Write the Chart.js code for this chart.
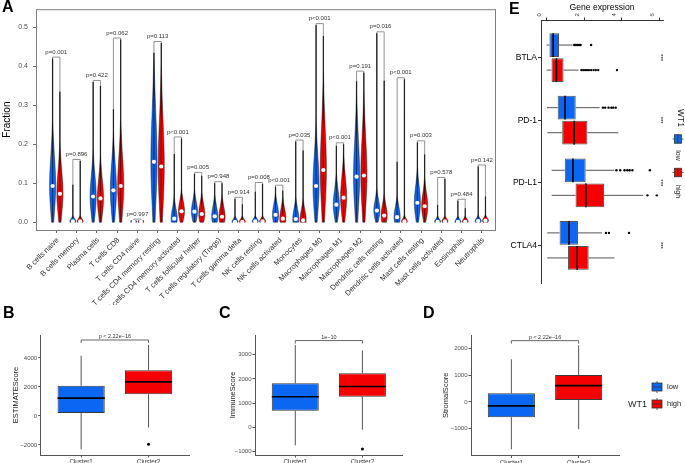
<!DOCTYPE html>
<html>
<head>
<meta charset="utf-8">
<script src="https://cdn.jsdelivr.net/npm/chart.js@4.4.1/dist/chart.umd.min.js"></script>
<style>
  html, body { margin: 0; padding: 0; background: #fff; }
  #wrap { position: relative; width: 685px; height: 463px; overflow: hidden; font-family: 'Liberation Sans', Arial, sans-serif; }
  canvas { position: absolute; }
  .tag { position: absolute; font-weight: bold; font-size: 16px; line-height: 16px; color: #000; }
</style>
</head>
<body>
<div id="wrap">
  <canvas id="chartA" width="500" height="305" style="left:0;top:0"></canvas>
  <canvas id="chartE" width="185" height="300" style="left:500px;top:0"></canvas>
  <canvas id="chartB" width="200" height="138" style="left:0;top:325px"></canvas>
  <canvas id="chartC" width="200" height="138" style="left:215px;top:325px"></canvas>
  <canvas id="chartD" width="255" height="138" style="left:430px;top:325px"></canvas>
  <div class="tag" style="left:2px;top:-1px">A</div>
  <div class="tag" style="left:509px;top:1px">E</div>
  <div class="tag" style="left:3px;top:305px">B</div>
  <div class="tag" style="left:219px;top:305px">C</div>
  <div class="tag" style="left:423px;top:305px">D</div>
</div>
<script>
// ---- panel A : immune cell fractions ----
const cellTypes = ['B cells naive', 'B cells memory', 'Plasma cells', 'T cells CD8', 'T cells CD4 naive',
  'T cells CD4 memory resting', 'T cells CD4 memory activated', 'T cells follicular helper',
  'T cells regulatory (Tregs)', 'T cells gamma delta', 'NK cells resting', 'NK cells activated',
  'Monocytes', 'Macrophages M0', 'Macrophages M1', 'Macrophages M2', 'Dendritic cells resting',
  'Dendritic cells activated', 'Mast cells resting', 'Mast cells activated', 'Eosinophils', 'Neutrophils'];
const lowMedian = [0.093, 0.002, 0.066, 0.082, 0.001, 0.155, 0.009, 0.027, 0.015, 0.001, 0.002,
  0.019, 0.008, 0.093, 0.045, 0.117, 0.030, 0.013, 0.050, 0.001, 0.001, 0.003];
const highMedian = [0.073, 0.002, 0.061, 0.093, 0.001, 0.143, 0.028, 0.021, 0.014, 0.001, 0.002,
  0.009, 0.005, 0.134, 0.063, 0.120, 0.017, 0.002, 0.041, 0.002, 0.001, 0.004];
const lowMax = [0.420, 0.096, 0.360, 0.290, 0.004, 0.435, 0.175, 0.124, 0.100, 0.060, 0.078,
  0.091, 0.207, 0.506, 0.196, 0.362, 0.485, 0.155, 0.205, 0.044, 0.055, 0.143];
const highMax = [0.335, 0.157, 0.350, 0.469, 0.004, 0.460, 0.215, 0.119, 0.100, 0.046, 0.098,
  0.081, 0.184, 0.478, 0.200, 0.384, 0.363, 0.367, 0.174, 0.111, 0.036, 0.066];
const pLabels = ['p=0.001', 'p=0.896', 'p=0.422', 'p=0.062', 'p=0.997', 'p=0.113', 'p<0.001', 'p=0.005',
  'p=0.948', 'p=0.914', 'p=0.008', 'p<0.001', 'p=0.035', 'p<0.001', 'p<0.001', 'p=0.191', 'p=0.016',
  'p<0.001', 'p=0.003', 'p=0.578', 'p=0.484', 'p=0.142'];
const fractionTicks = [0, 0.1, 0.2, 0.3, 0.4, 0.5];

// ---- panels B, C, D : scores by cluster ----
const clusters = ['Cluster1', 'Cluster2'];
const estimateMin = [-2300, -800];
const estimateQ1 = [200, 1500];
const estimateMed = [1230, 2350];
const estimateQ3 = [2080, 3150];
const estimateMax = [4150, 4900];
const estimateOut = [[], [-1950]];
const estimateTicks = [-2000, 0, 2000, 4000];

const immuneMin = [-742, -96];
const immuneQ1 = [687, 1264];
const immuneMed = [1264, 1690];
const immuneQ3 = [1827, 2239];
const immuneMax = [3400, 3173];
const immuneOut = [[], [-893]];
const immuneTicks = [-1000, 0, 1000, 2000, 3000];

const stromalMin = [-1760, -1016];
const stromalQ1 = [-570, 74];
const stromalMed = [-149, 607];
const stromalQ3 = [322, 1004];
const stromalMax = [1586, 2107];
const stromalOut = [[], []];
const stromalTicks = [-1000, 0, 1000, 2000];

// ---- panel E : checkpoint gene expression ----
const genes = ['BTLA', 'PD-1', 'PD-L1', 'CTLA4'];
const geneTicks = [0, 2, 4, 6];
const lowMinE = [0.0, 0.02, 0.27, 0.03];
const lowQ1E = [0.15, 0.59, 0.97, 0.69];
const lowMedE = [0.35, 0.98, 1.40, 1.19];
const lowQ3E = [0.66, 1.55, 2.08, 1.67];
const lowMaxE = [1.39, 2.82, 3.60, 2.95];
const lowOutE = [[1.47, 1.56, 1.65, 1.73, 1.81, 2.37], [3.0, 3.12, 3.3, 3.45, 3.55, 3.68],
  [3.72, 3.92, 4.15, 4.3, 4.42, 4.57, 5.5], [3.16, 3.32, 4.39]];
const highMinE = [0.0, 0.04, 0.27, 0.03];
const highQ1E = [0.26, 0.83, 1.54, 1.14];
const highMedE = [0.52, 1.47, 2.09, 1.63];
const highQ3E = [0.90, 2.17, 3.06, 2.24];
const highMaxE = [1.70, 3.82, 5.15, 3.61];
const highOutE = [[1.85, 1.95, 2.05, 2.15, 2.25, 2.37, 2.5, 2.62, 2.75, 3.75], [], [5.37, 5.87], []];
const signifE = ['***', '***', '***', '***'];

const FONT = "'Liberation Sans', Arial, sans-serif";
const blue = '#0b67f2';
const red = '#f50000';
Chart.defaults.font.family = FONT;
Chart.defaults.color = '#4d4d4d';

const baseOpts = {
  responsive: false,
  animation: false,
  devicePixelRatio: 1,
  events: [],
  plugins: { legend: { display: false }, tooltip: { enabled: false } }
};

function setTicks(values) {
  return scale => { scale.ticks = values.map(v => ({ value: v })); };
}

// ---------------- Panel A ----------------
const dodge = 0.18;
const violinHalf = 0.15;

function drawViolin(ctx, cx, y, med, top, w, color) {
  // shape only: width peaks at the median and thins out towards the maximum
  const sd = med < 0.005 ? 0.006 : Math.max(med * 0.7, 0.022);
  const n = 70;
  const pts = [];
  for (let k = 0; k <= n; k++) {
    const v = top * k / n;
    const d = (v - med) / (v > med ? sd * 1.15 : sd);
    pts.push([y.getPixelForValue(v), Math.max(Math.exp(-0.5 * d * d), 0.07) * w]);
  }
  const grad = ctx.createLinearGradient(0, y.getPixelForValue(0), 0, y.getPixelForValue(top));
  const f1 = Math.min((med + 1.2 * sd) / top, 0.98);
  const f2 = Math.max(Math.min((med + 2.6 * sd) / top, 1), f1 + 0.01);
  grad.addColorStop(0, color);
  grad.addColorStop(f1, color);
  grad.addColorStop(Math.min(f2, 1), '#111');
  if (f2 < 1) grad.addColorStop(1, '#111');
  ctx.beginPath();
  pts.forEach((p, k) => k === 0 ? ctx.moveTo(cx + p[1], p[0]) : ctx.lineTo(cx + p[1], p[0]));
  for (let k = pts.length - 1; k >= 0; k--) ctx.lineTo(cx - pts[k][1], pts[k][0]);
  ctx.closePath();
  ctx.fillStyle = grad;
  ctx.fill();
  ctx.strokeStyle = 'rgba(0,0,0,0.85)';
  ctx.lineWidth = 0.5;
  ctx.stroke();
  ctx.beginPath();
  ctx.moveTo(cx, y.getPixelForValue(0));
  ctx.lineTo(cx, y.getPixelForValue(top));
  ctx.lineWidth = 0.6;
  ctx.strokeStyle = '#000';
  ctx.stroke();
}

const violinPlugin = {
  id: 'violins',
  beforeDatasetsDraw(chart) {
    const { ctx, scales: { x, y } } = chart;
    const w = x.getPixelForValue(violinHalf) - x.getPixelForValue(0);
    ctx.save();
    cellTypes.forEach((_, i) => {
      drawViolin(ctx, x.getPixelForValue(i + 1 - dodge), y, lowMedian[i], lowMax[i], w, blue);
      drawViolin(ctx, x.getPixelForValue(i + 1 + dodge), y, highMedian[i], highMax[i], w, red);
    });
    // p-value brackets
    ctx.strokeStyle = '#666';
    ctx.lineWidth = 0.7;
    ctx.fillStyle = '#333';
    ctx.font = '6px ' + FONT;
    ctx.textAlign = 'center';
    ctx.textBaseline = 'bottom';
    cellTypes.forEach((_, i) => {
      const xl = x.getPixelForValue(i + 1 - dodge);
      const xr = x.getPixelForValue(i + 1 + dodge);
      const yb = y.getPixelForValue(Math.max(lowMax[i], highMax[i]) + 0.004);
      ctx.beginPath();
      ctx.moveTo(xl, y.getPixelForValue(lowMax[i]));
      ctx.lineTo(xl, yb);
      ctx.lineTo(xr, yb);
      ctx.lineTo(xr, y.getPixelForValue(highMax[i]));
      ctx.stroke();
      ctx.fillText(pLabels[i], (xl + xr) / 2, yb - 2);
    });
    ctx.restore();
  },
  afterDraw(chart) {
    const { ctx, chartArea: a, scales: { x } } = chart;
    ctx.save();
    ctx.strokeStyle = '#7f7f7f';
    ctx.lineWidth = 1;
    ctx.strokeRect(a.left + 0.5, a.top + 0.5, a.right - a.left - 1, a.bottom - a.top);
    ctx.fillStyle = '#333';
    ctx.font = '7.5px ' + FONT;
    ctx.textAlign = 'right';
    ctx.textBaseline = 'middle';
    cellTypes.forEach((name, i) => {
      ctx.save();
      ctx.translate(x.getPixelForValue(i + 1) + 1.5, a.bottom + 9);
      ctx.rotate(-Math.PI / 4);
      ctx.fillText(name, 0, 0);
      ctx.restore();
    });
    ctx.restore();
  }
};

new Chart(document.getElementById('chartA'), {
  type: 'scatter',
  data: {
    datasets: [
      {
        data: lowMedian.map((v, i) => ({ x: i + 1 - dodge, y: v })),
        pointRadius: 2.1, pointBackgroundColor: '#fff', pointBorderColor: '#fff', pointBorderWidth: 0
      },
      {
        data: highMedian.map((v, i) => ({ x: i + 1 + dodge, y: v })),
        pointRadius: 2.1, pointBackgroundColor: '#fff', pointBorderColor: '#fff', pointBorderWidth: 0
      }
    ]
  },
  options: {
    ...baseOpts,
    layout: { padding: { top: 9, right: 3, left: 0, bottom: 0 } },
    scales: {
      x: {
        type: 'linear', min: 0, max: 22.7,
        afterBuildTicks: setTicks(cellTypes.map((_, i) => i + 1)),
        afterFit: s => { s.height = 75; s.paddingLeft = 0; s.paddingRight = 0; },
        ticks: { display: false },
        grid: { drawOnChartArea: false, tickLength: 3, color: '#666' },
        border: { display: false }
      },
      y: {
        type: 'linear', min: -0.02, max: 0.547,
        afterBuildTicks: setTicks(fractionTicks),
        afterFit: s => { s.width = 36; },
        ticks: { font: { size: 7 }, padding: 5, callback: v => v.toFixed(1) },
        grid: { drawOnChartArea: false, tickLength: 3, color: '#666' },
        border: { display: false },
        title: { display: true, text: 'Fraction', color: '#000', font: { size: 10 }, padding: { top: 1, bottom: 0 } }
      }
    }
  },
  plugins: [violinPlugin]
});

// ---------------- box plot helpers ----------------
function boxPartsPlugin(groups, horizontal, extra) {
  function draw(chart, phase) {
    const { ctx, scales: { x, y } } = chart;
    const vScale = horizontal ? x : y;
    const iScale = horizontal ? y : x;
    ctx.save();
    groups.forEach((g, gi) => {
      const bars = chart.getDatasetMeta(gi).data;
      g.pos.forEach((p, i) => {
        const c = iScale.getPixelForValue(p);
        ctx.beginPath();
        if (phase === 'whisker') {
          const segs = [[g.min[i], g.q1[i]], [g.q3[i], g.max[i]]];
          segs.forEach(([a, b]) => {
            const pa = vScale.getPixelForValue(a), pb = vScale.getPixelForValue(b);
            if (horizontal) { ctx.moveTo(pa, c); ctx.lineTo(pb, c); } else { ctx.moveTo(c, pa); ctx.lineTo(c, pb); }
          });
          ctx.strokeStyle = '#555';
          ctx.lineWidth = 1;
        } else {
          const m = vScale.getPixelForValue(g.med[i]);
          const half = (horizontal ? bars[i].height : bars[i].width) / 2;
          if (horizontal) { ctx.moveTo(m, c - half); ctx.lineTo(m, c + half); } else { ctx.moveTo(c - half, m); ctx.lineTo(c + half, m); }
          ctx.strokeStyle = '#000';
          ctx.lineWidth = 1.6;
        }
        ctx.stroke();
      });
    });
    ctx.restore();
  }
  return {
    id: 'boxParts',
    beforeDatasetsDraw(chart) { draw(chart, 'whisker'); },
    afterDatasetsDraw(chart) { draw(chart, 'median'); },
    afterDraw(chart) { if (extra) extra(chart); }
  };
}

function bracket(value, text) {
  return chart => {
    const { ctx, scales: { x, y } } = chart;
    const x1 = x.getPixelForValue(1), x2 = x.getPixelForValue(2), yb = y.getPixelForValue(value);
    ctx.save();
    ctx.strokeStyle = '#666';
    ctx.lineWidth = 1;
    ctx.beginPath();
    ctx.moveTo(x1, yb + 3);
    ctx.lineTo(x1, yb);
    ctx.lineTo(x2, yb);
    ctx.lineTo(x2, yb + 3);
    ctx.stroke();
    ctx.fillStyle = '#333';
    ctx.font = '5.5px ' + FONT;
    ctx.textAlign = 'center';
    ctx.textBaseline = 'bottom';
    ctx.fillText(text, (x1 + x2) / 2, yb - 0.5);
    ctx.restore();
  };
}

function scorePanel(id, stats, yMin, yMax, yTicks, axisWidth, title, titlePad, rightPad, xHeight, extra) {
  const groups = [{ pos: [1, 2], min: stats.min, q1: stats.q1, med: stats.med, q3: stats.q3, max: stats.max }];
  const outliers = [];
  stats.out.forEach((list, i) => list.forEach(v => outliers.push({ x: i + 1, y: v })));
  return new Chart(document.getElementById(id), {
    type: 'bar',
    data: {
      datasets: [
        {
          data: clusters.map((_, i) => ({ x: i + 1, y: [stats.q1[i], stats.q3[i]] })),
          backgroundColor: [blue, red], borderColor: '#3a3a3a', borderWidth: 1, borderSkipped: false,
          grouped: false, barPercentage: 0.7, categoryPercentage: 1
        },
        { type: 'scatter', data: outliers, pointRadius: 1.5, pointBackgroundColor: '#000', pointBorderWidth: 0 }
      ]
    },
    options: {
      ...baseOpts,
      layout: { padding: { top: 10, right: rightPad, left: 0, bottom: 0 } },
      scales: {
        x: {
          type: 'linear', min: 0.4, max: 2.6, offset: false,
          afterBuildTicks: setTicks([1, 2]),
          afterFit: s => { s.height = xHeight; },
          ticks: { font: { size: 6.3 }, color: '#333', padding: 1, callback: v => clusters[v - 1] },
          grid: { offset: false, drawOnChartArea: false, tickLength: 2.5, color: '#555' },
          border: { color: '#555', width: 1 }
        },
        y: {
          type: 'linear', min: yMin, max: yMax,
          afterBuildTicks: setTicks(yTicks),
          afterFit: s => { s.width = axisWidth; },
          ticks: { font: { size: 6 }, padding: 1, callback: v => v < 0 ? '\u2212' + Math.abs(v) : String(v) },
          grid: { drawOnChartArea: false, tickLength: 2.5, color: '#555' },
          border: { color: '#555', width: 1 },
          title: { display: true, text: title, color: '#222', font: { size: 7.5 }, padding: { top: titlePad, bottom: 0 } }
        }
      }
    },
    plugins: [boxPartsPlugin(groups, false, extra)]
  });
}

scorePanel('chartB',
  { min: estimateMin, q1: estimateQ1, med: estimateMed, q3: estimateQ3, max: estimateMax, out: estimateOut },
  -2690, 5586, estimateTicks, 40.7, 'ESTIMATEScore', 11.5, 11, 8, bracket(5241, 'p < 2.22e\u221216'));

scorePanel('chartC',
  { min: immuneMin, q1: immuneQ1, med: immuneMed, q3: immuneQ3, max: immuneMax, out: immuneOut },
  -1140, 3815, immuneTicks, 40, 'ImmuneScore', 13, 12.3, 8, bracket(3585, '1e\u221210'));

function keyBox(ctx, cx, cy, w, h, color, horizontalWhisker) {
  ctx.save();
  ctx.fillStyle = color;
  ctx.fillRect(cx - w / 2, cy - h / 2, w, h);
  ctx.strokeStyle = '#333';
  ctx.lineWidth = 0.8;
  ctx.strokeRect(cx - w / 2, cy - h / 2, w, h);
  ctx.beginPath();
  if (horizontalWhisker) {
    ctx.moveTo(cx, cy - h / 2); ctx.lineTo(cx, cy + h / 2);
    ctx.moveTo(cx - w / 2 - 2, cy); ctx.lineTo(cx - w / 2, cy);
    ctx.moveTo(cx + w / 2, cy); ctx.lineTo(cx + w / 2 + 2, cy);
  } else {
    ctx.moveTo(cx - w / 2, cy); ctx.lineTo(cx + w / 2, cy);
    ctx.moveTo(cx, cy - h / 2 - 2); ctx.lineTo(cx, cy - h / 2);
    ctx.moveTo(cx, cy + h / 2); ctx.lineTo(cx, cy + h / 2 + 2);
  }
  ctx.stroke();
  ctx.restore();
}

scorePanel('chartD',
  { min: stromalMin, q1: stromalQ1, med: stromalMed, q3: stromalQ3, max: stromalMax, out: stromalOut },
  -1995, 2490, stromalTicks, 41, 'StromalScore', 11.5, 66, 7.5,
  chart => {
    bracket(2280, 'p < 2.22e\u221216')(chart);
    const ctx = chart.ctx;
    ctx.save();
    keyBox(ctx, 227, 62, 10, 8, blue, false);
    keyBox(ctx, 227, 79, 10, 8, red, false);
    ctx.fillStyle = '#222';
    ctx.textBaseline = 'middle';
    ctx.font = '9px ' + FONT;
    ctx.fillText('WT1', 198, 80);
    ctx.font = '7.5px ' + FONT;
    ctx.fillText('low', 237, 62);
    ctx.fillText('high', 237, 79);
    ctx.restore();
  });

// ---------------- Panel E ----------------
const lowPosE = genes.map((_, i) => i + 1 - 0.2);
const highPosE = genes.map((_, i) => i + 1 + 0.2);
const groupsE = [
  { pos: lowPosE, min: lowMinE, q1: lowQ1E, med: lowMedE, q3: lowQ3E, max: lowMaxE },
  { pos: highPosE, min: highMinE, q1: highQ1E, med: highMedE, q3: highQ3E, max: highMaxE }
];
const lowOutPts = [];
lowOutE.forEach((list, i) => list.forEach(v => lowOutPts.push({ x: v, y: lowPosE[i] })));
const highOutPts = [];
highOutE.forEach((list, i) => list.forEach(v => highOutPts.push({ x: v, y: highPosE[i] })));

function rotatedText(ctx, text, x, y, size) {
  ctx.save();
  ctx.translate(x, y);
  ctx.rotate(Math.PI / 2);
  ctx.font = size + 'px ' + FONT;
  ctx.textAlign = 'center';
  ctx.textBaseline = 'middle';
  ctx.fillText(text, 0, 0);
  ctx.restore();
}

new Chart(document.getElementById('chartE'), {
  type: 'bar',
  data: {
    datasets: [
      {
        data: genes.map((_, i) => ({ y: lowPosE[i], x: [lowQ1E[i], lowQ3E[i]] })),
        backgroundColor: blue, borderColor: '#555', borderWidth: 1, borderSkipped: false,
        grouped: false, barPercentage: 0.95, categoryPercentage: 1
      },
      {
        data: genes.map((_, i) => ({ y: highPosE[i], x: [highQ1E[i], highQ3E[i]] })),
        backgroundColor: red, borderColor: '#555', borderWidth: 1, borderSkipped: false,
        grouped: false, barPercentage: 0.95, categoryPercentage: 1
      },
      { type: 'scatter', data: lowOutPts, pointRadius: 1.2, pointBackgroundColor: '#000', pointBorderWidth: 0 },
      { type: 'scatter', data: highOutPts, pointRadius: 1.2, pointBackgroundColor: '#000', pointBorderWidth: 0 }
    ]
  },
  options: {
    ...baseOpts,
    indexAxis: 'y',
    layout: { padding: { top: 0, right: 22, left: 0, bottom: 17 } },
    scales: {
      x: {
        type: 'linear', position: 'top', min: -0.3, max: 6.2,
        afterBuildTicks: setTicks(geneTicks),
        afterFit: s => { s.height = 20; s.paddingLeft = 0; s.paddingRight = 0; },
        ticks: { font: { size: 6 }, color: '#333', padding: 1, minRotation: 90, maxRotation: 90 },
        grid: { drawOnChartArea: false, tickLength: 2.5, color: '#333' },
        border: { color: '#333', width: 1 },
        title: { display: true, text: 'Gene expression', color: '#000', font: { size: 8.6 }, padding: { top: 2, bottom: 0 } }
      },
      y: {
        type: 'linear', reverse: true, min: 0.4, max: 4.6, offset: false,
        afterBuildTicks: setTicks(genes.map((_, i) => i + 1)),
        afterFit: s => { s.width = 41; },
        ticks: { font: { size: 8.5 }, color: '#000', padding: 1, callback: v => genes[v - 1] },
        grid: { offset: false, drawOnChartArea: false, tickLength: 3, color: '#333' },
        border: { color: '#333', width: 1 }
      }
    }
  },
  plugins: [boxPartsPlugin(groupsE, true, chart => {
    const { ctx, scales: { x, y } } = chart;
    ctx.save();
    keyBox(ctx, 178, 139, 7, 8.5, blue, true);
    keyBox(ctx, 178, 172.5, 7, 8.5, red, true);
    ctx.fillStyle = '#000';
    signifE.forEach((s, i) => rotatedText(ctx, s, x.getPixelForValue(6.05), y.getPixelForValue(i + 1), 6));
    ctx.fillStyle = '#222';
    rotatedText(ctx, 'WT1', 180, 118, 8.5);
    rotatedText(ctx, 'low', 178, 155.5, 7);
    rotatedText(ctx, 'high', 178, 191.5, 7);
    ctx.restore();
  })]
});
</script>
</body>
</html>
